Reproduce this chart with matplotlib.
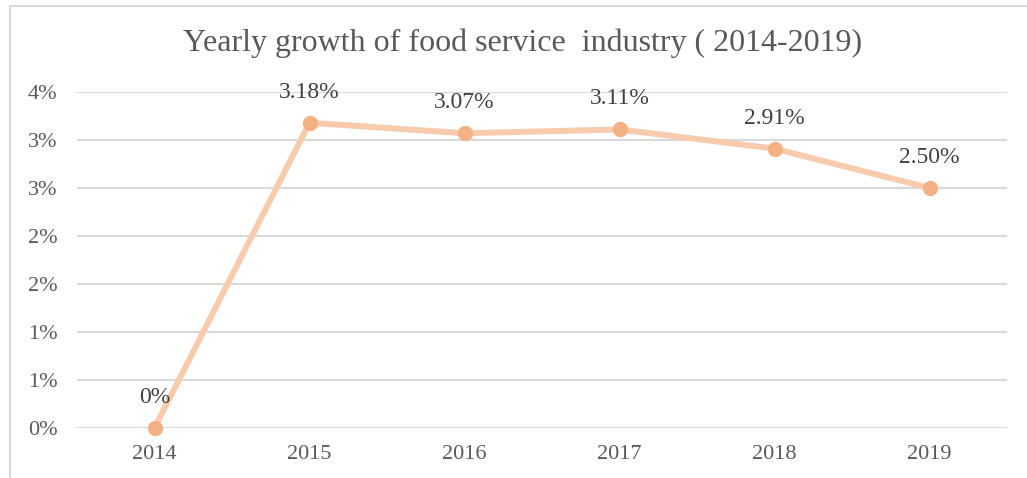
import matplotlib.pyplot as plt
from matplotlib.patches import Rectangle

years = ['2014', '2015', '2016', '2017', '2018', '2019']
growth = [0.0, 3.18, 3.07, 3.11, 2.91, 2.50]
point_labels = ['0%', '3.18%', '3.07%', '3.11%', '2.91%', '2.50%']
ytick_vals = [0, 0.5, 1.0, 1.5, 2.0, 2.5, 3.0, 3.5]
ytick_text = ['0%', '1%', '1%', '2%', '2%', '3%', '3%', '4%']

plt.rcParams['font.family'] = ['Liberation Serif', 'DejaVu Serif']

W, H = 1027, 478
fig = plt.figure(figsize=(W / 100, H / 100), dpi=100)

# light frame around the whole chart
fig.patches.append(Rectangle((10 / W, -0.1), 1.2, 1.1 - 6 / H,
                             transform=fig.transFigure, fill=False,
                             edgecolor='#D9D9D9', linewidth=1.5))

ax = fig.add_axes([77 / W, (H - 428) / H, (1007 - 77) / W, (428 - 92) / H])
x = range(len(years))

ax.plot(x, growth, color='#F8CBAD', linewidth=4.3, solid_capstyle='round',
        marker='o', markersize=10, markerfacecolor='#F4B183',
        markeredgecolor='#F4B183', zorder=3, clip_on=False)

for i, (v, lab) in enumerate(zip(growth, point_labels)):
    ax.annotate(lab, (i, v), xytext=(0, 22), textcoords='offset points',
                ha='center', va='center', fontsize=17, color='#404040')

ax.set_xlim(-0.5, len(years) - 0.5)
ax.set_ylim(0, 3.5)
ax.set_xticks(list(x))
ax.set_xticklabels(years)
ax.set_yticks(ytick_vals)
ax.set_yticklabels(ytick_text)
ax.tick_params(length=0, labelsize=16, labelcolor='#595959')
ax.tick_params(axis='x', pad=12)
ax.tick_params(axis='y', pad=14)
ax.grid(axis='y', color='#D9D9D9', linewidth=1.5)
ax.set_axisbelow(True)
for s in ax.spines.values():
    s.set_visible(False)

fig.text(0.509, 0.91, 'Yearly growth of food service  industry ( 2014-2019)',
         ha='center', va='center', fontsize=23, color='#595959')

fig.savefig('out.png', dpi=100)
